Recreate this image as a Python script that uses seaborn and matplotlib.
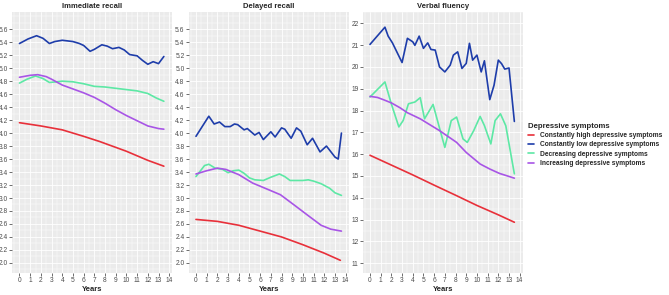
import numpy as np
import pandas as pd
import seaborn as sns
import matplotlib.pyplot as plt
from matplotlib.lines import Line2D
from matplotlib.ticker import MultipleLocator

sns.set_theme(style="darkgrid")
plt.rcParams['font.family'] = ['Liberation Sans', 'DejaVu Sans']

groups = ["Constantly high depressive symptoms", "Constantly low depressive symptoms",
          "Decreasing depressive symptoms", "Increasing depressive symptoms"]
colors = ["#E8303A", "#1E3DAA", "#5DE8A5", "#A855E6"]
panel_titles = ["Immediate recall", "Delayed recall", "Verbal fluency"]

# Immediate recall
ir_high_x = [0, 2, 4, 6, 7.5, 9, 10, 11, 12, 13, 13.5]
ir_high_y = [4.16, 4.11, 4.05, 3.95, 3.87, 3.78, 3.72, 3.65, 3.58, 3.52, 3.49]
ir_low_x = [0, 0.8, 1.6, 2.2, 2.8, 3.3, 4.0, 5.0, 5.6, 6.0, 6.6, 7.0, 7.7, 8.2, 8.7, 9.3, 9.8,
            10.3, 11.0, 11.5, 12.0, 12.5, 13.0, 13.5]
ir_low_y = [5.38, 5.45, 5.50, 5.46, 5.38, 5.41, 5.43, 5.41, 5.38, 5.35, 5.26, 5.29, 5.36, 5.34,
            5.30, 5.32, 5.28, 5.21, 5.19, 5.12, 5.06, 5.10, 5.07, 5.18]
ir_dec_x = [0, 0.7, 1.5, 2.2, 2.8, 3.5, 4.0, 5.0, 6.0, 7.0, 8.0, 9.0, 10.0, 11.0, 12.0, 12.8, 13.5]
ir_dec_y = [4.77, 4.83, 4.88, 4.84, 4.78, 4.79, 4.80, 4.79, 4.76, 4.72, 4.71, 4.69, 4.67, 4.65,
            4.61, 4.54, 4.49]
ir_inc_x = [0, 1.0, 1.7, 2.5, 3.0, 4.0, 5.0, 6.0, 7.0, 8.0, 9.0, 10.0, 11.0, 12.0, 13.0, 13.5]
ir_inc_y = [4.86, 4.89, 4.90, 4.87, 4.83, 4.74, 4.68, 4.62, 4.55, 4.46, 4.36, 4.27, 4.19, 4.11,
            4.07, 4.06]

# Delayed recall
dr_high_x = [0, 2, 4, 6, 8, 10, 12, 13.5]
dr_high_y = [2.67, 2.64, 2.58, 2.49, 2.40, 2.28, 2.15, 2.04]
dr_low_x = [0, 1.2, 1.7, 2.2, 2.7, 3.2, 3.6, 3.9, 4.5, 4.8, 5.5, 5.9, 6.3, 7.0, 7.4, 8.0, 8.3,
            8.9, 9.4, 9.8, 10.4, 10.9, 11.6, 12.2, 13.0, 13.3, 13.6]
dr_low_y = [3.95, 4.26, 4.14, 4.17, 4.10, 4.10, 4.14, 4.13, 4.05, 4.07, 3.97, 4.01, 3.90, 4.02,
            3.94, 4.08, 4.06, 3.92, 4.08, 4.03, 3.82, 3.92, 3.71, 3.80, 3.63, 3.60, 4.00]
dr_dec_x = [0, 0.8, 1.2, 1.8, 2.5, 3.0, 3.5, 4.0, 4.5, 5.0, 5.5, 6.3, 7.0, 7.8, 8.3, 8.8, 10.0,
            10.5, 11.0, 11.7, 12.5, 13.0, 13.6]
dr_dec_y = [3.33, 3.50, 3.52, 3.46, 3.44, 3.39, 3.42, 3.43, 3.38, 3.31, 3.28, 3.27, 3.32, 3.37,
            3.33, 3.27, 3.27, 3.28, 3.26, 3.22, 3.15, 3.08, 3.04]
dr_inc_x = [0, 1.0, 2.0, 2.8, 4.0, 5.3, 6.9, 7.9, 9.2, 10.4, 11.7, 12.6, 13.6]
dr_inc_y = [3.37, 3.42, 3.46, 3.44, 3.36, 3.23, 3.12, 3.05, 2.89, 2.74, 2.58, 2.52, 2.49]

# Verbal fluency
vf_high_x = [0, 2, 4, 6, 8, 10, 12, 13.5]
vf_high_y = [15.95, 15.50, 15.05, 14.58, 14.12, 13.65, 13.22, 12.88]
vf_low_x = [0, 1.4, 1.7, 2.1, 3.0, 3.5, 4.0, 4.2, 4.6, 5.0, 5.4, 5.7, 6.1, 6.5, 7.0, 7.5, 7.8,
            8.2, 8.6, 9.0, 9.3, 9.6, 10.0, 10.4, 10.7, 11.2, 11.6, 12.0, 12.3, 12.6, 13.0, 13.5]
vf_low_y = [21.03, 21.82, 21.41, 21.10, 20.20, 21.31, 21.15, 20.99, 21.41, 20.85, 21.10, 20.80,
            20.77, 20.00, 19.77, 20.08, 20.54, 20.69, 19.93, 20.16, 21.08, 20.31, 20.54, 19.77,
            20.28, 18.50, 19.16, 20.31, 20.15, 19.90, 19.95, 17.50]
vf_dec_x = [0, 1.4, 2.0, 2.7, 3.1, 3.6, 4.2, 4.7, 5.1, 5.9, 6.5, 7.0, 7.6, 8.1, 8.7, 9.1, 9.7,
            10.3, 10.7, 11.3, 11.7, 12.2, 12.7, 13.5]
vf_dec_y = [18.62, 19.31, 18.30, 17.25, 17.54, 18.31, 18.39, 18.59, 17.62, 18.28, 17.20, 16.31,
            17.54, 17.70, 16.70, 16.54, 17.08, 17.73, 17.31, 16.47, 17.54, 17.85, 17.30, 15.10]
vf_inc_x = [0, 0.7, 1.4, 2.0, 2.8, 3.5, 4.7, 6.5, 8.1, 9.0, 10.3, 11.2, 12.1, 13.5]
vf_inc_y = [18.65, 18.60, 18.47, 18.35, 18.13, 17.90, 17.62, 17.08, 16.54, 16.08, 15.55, 15.32,
            15.12, 14.90]

series = [
    [(ir_high_x, ir_high_y), (ir_low_x, ir_low_y), (ir_dec_x, ir_dec_y), (ir_inc_x, ir_inc_y)],
    [(dr_high_x, dr_high_y), (dr_low_x, dr_low_y), (dr_dec_x, dr_dec_y), (dr_inc_x, dr_inc_y)],
    [(vf_high_x, vf_high_y), (vf_low_x, vf_low_y), (vf_dec_x, vf_dec_y), (vf_inc_x, vf_inc_y)],
]

W, H = 669, 295
fig = plt.figure(figsize=(W / 100, H / 100), dpi=100)
fig.patch.set_facecolor("white")

# panel boxes in pixels (left edge, width, top, bottom)
lefts = [12.2, 188.7, 362.7]
pw, top, bottom = 160, 11.7, 273.3
ylims = [(1.84, 5.87), (1.84, 5.87), (10.54, 22.53)]
yticks = [np.round(np.arange(2.0, 5.61, 0.2), 1), np.round(np.arange(2.0, 5.61, 0.2), 1),
          np.arange(11, 23, 1)]

for i in range(3):
    ax = fig.add_axes([lefts[i] / W, (H - bottom) / H, pw / W, (bottom - top) / H])
    frames = []
    for g, (xs, ys) in zip(groups, series[i]):
        frames.append(pd.DataFrame({"Years": xs, "value": ys, "group": g}))
    df = pd.concat(frames, ignore_index=True)
    sns.lineplot(data=df, x="Years", y="value", hue="group", hue_order=groups,
                 palette=colors, estimator=None, legend=False, linewidth=1.2, ax=ax)
    ax.set_facecolor("#EBEBEB")
    for s in ax.spines.values():
        s.set_visible(False)
    ax.set_xlim(-0.68, 14.28)
    ax.set_ylim(*ylims[i])
    ax.set_xticks(range(15))
    ax.set_yticks(yticks[i])
    if i < 2:
        ax.set_yticklabels([f"{v:.1f}" for v in yticks[i]])
        ax.yaxis.set_minor_locator(MultipleLocator(0.1))
    else:
        ax.yaxis.set_minor_locator(MultipleLocator(0.5))
    ax.xaxis.set_minor_locator(MultipleLocator(0.5))
    ax.grid(which="major", color="white", linewidth=0.6)
    ax.grid(which="minor", color="white", linewidth=0.3)
    ax.tick_params(which="major", length=2, width=0.5, color="#333333", pad=1,
                   labelsize=4.8, labelcolor="#4D4D4D", left=True, bottom=True)
    ax.tick_params(which="minor", length=0)
    ax.set_xlabel("Years", fontsize=5.5, fontweight="bold", labelpad=1)
    ax.set_ylabel("")
    ax.set_title(panel_titles[i], fontsize=5.5, fontweight="bold", pad=3)

handles = [Line2D([0], [0], color=c, linewidth=1.2) for c in colors]
leg = fig.legend(handles, groups, title="Depressive symptoms", loc="upper left",
                 bbox_to_anchor=(525 / W, 1 - 120 / H), frameon=False,
                 prop={"size": 4.8, "weight": "bold"}, handlelength=1.0,
                 handletextpad=0.9, labelspacing=0.35, borderaxespad=0)
leg.get_title().set_fontsize(5.6)
leg.get_title().set_fontweight("bold")
leg._legend_box.align = "left"

fig.savefig("out.png", dpi=100)
